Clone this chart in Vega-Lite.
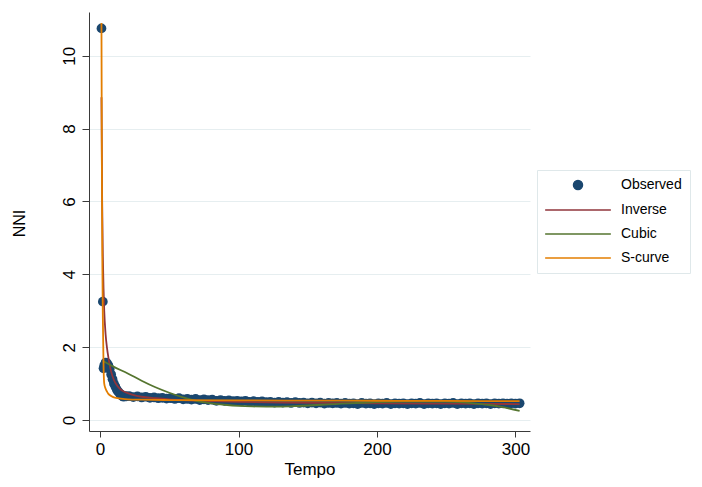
{
  "$schema": "https://vega.github.io/schema/vega-lite/v6.json",
  "width": 441,
  "height": 419,
  "autosize": "none",
  "padding": {"left": 89, "top": 12, "right": 172, "bottom": 56},
  "background": "white",
  "config": {
    "view": {"stroke": null},
    "font": "Liberation Sans",
    "axis": {
      "domainColor": "#3a3a3a",
      "tickColor": "#3a3a3a",
      "labelColor": "#000000",
      "titleColor": "#000000",
      "labelFont": "Liberation Sans",
      "titleFont": "Liberation Sans",
      "titleFontWeight": "normal",
      "labelFontSize": 17,
      "titleFontSize": 17
    }
  },
  "data": {
    "values": [
      {"series": "Observed", "Tempo": 1, "NNI": 10.75},
      {"series": "Observed", "Tempo": 2, "NNI": 3.25},
      {"series": "Observed", "Tempo": 2.5, "NNI": 1.42},
      {"series": "Observed", "Tempo": 3, "NNI": 1.5},
      {"series": "Observed", "Tempo": 4, "NNI": 1.58},
      {"series": "Observed", "Tempo": 5, "NNI": 1.56},
      {"series": "Observed", "Tempo": 6, "NNI": 1.5},
      {"series": "Observed", "Tempo": 7, "NNI": 1.4},
      {"series": "Observed", "Tempo": 8, "NNI": 1.25},
      {"series": "Observed", "Tempo": 9, "NNI": 1.12},
      {"series": "Observed", "Tempo": 10, "NNI": 1.0},
      {"series": "Observed", "Tempo": 11, "NNI": 0.92},
      {"series": "Observed", "Tempo": 12, "NNI": 0.84},
      {"series": "Observed", "Tempo": 13, "NNI": 0.78},
      {"series": "Observed", "Tempo": 14, "NNI": 0.74},
      {"series": "Observed", "Tempo": 15, "NNI": 0.7},
      {"series": "Observed", "Tempo": 16, "NNI": 0.66},
      {"series": "Observed", "Tempo": 17, "NNI": 0.64},
      {"series": "Observed", "Tempo": 18, "NNI": 0.66},
      {"series": "Observed", "Tempo": 19, "NNI": 0.65},
      {"series": "Observed", "Tempo": 21, "NNI": 0.66},
      {"series": "Observed", "Tempo": 24, "NNI": 0.63},
      {"series": "Observed", "Tempo": 27, "NNI": 0.65},
      {"series": "Observed", "Tempo": 30, "NNI": 0.62},
      {"series": "Observed", "Tempo": 33, "NNI": 0.64},
      {"series": "Observed", "Tempo": 36, "NNI": 0.61},
      {"series": "Observed", "Tempo": 39, "NNI": 0.62},
      {"series": "Observed", "Tempo": 42, "NNI": 0.6},
      {"series": "Observed", "Tempo": 45, "NNI": 0.61},
      {"series": "Observed", "Tempo": 48, "NNI": 0.59},
      {"series": "Observed", "Tempo": 51, "NNI": 0.6},
      {"series": "Observed", "Tempo": 54, "NNI": 0.58},
      {"series": "Observed", "Tempo": 57, "NNI": 0.6},
      {"series": "Observed", "Tempo": 60, "NNI": 0.57},
      {"series": "Observed", "Tempo": 63, "NNI": 0.58},
      {"series": "Observed", "Tempo": 66, "NNI": 0.56},
      {"series": "Observed", "Tempo": 69, "NNI": 0.58},
      {"series": "Observed", "Tempo": 72, "NNI": 0.55},
      {"series": "Observed", "Tempo": 75, "NNI": 0.57},
      {"series": "Observed", "Tempo": 78, "NNI": 0.55},
      {"series": "Observed", "Tempo": 81, "NNI": 0.56},
      {"series": "Observed", "Tempo": 84, "NNI": 0.53},
      {"series": "Observed", "Tempo": 87, "NNI": 0.55},
      {"series": "Observed", "Tempo": 90, "NNI": 0.53},
      {"series": "Observed", "Tempo": 93, "NNI": 0.54},
      {"series": "Observed", "Tempo": 96, "NNI": 0.52},
      {"series": "Observed", "Tempo": 99, "NNI": 0.53},
      {"series": "Observed", "Tempo": 102, "NNI": 0.51},
      {"series": "Observed", "Tempo": 105, "NNI": 0.53},
      {"series": "Observed", "Tempo": 108, "NNI": 0.5},
      {"series": "Observed", "Tempo": 111, "NNI": 0.52},
      {"series": "Observed", "Tempo": 114, "NNI": 0.5},
      {"series": "Observed", "Tempo": 117, "NNI": 0.51},
      {"series": "Observed", "Tempo": 120, "NNI": 0.49},
      {"series": "Observed", "Tempo": 123, "NNI": 0.5},
      {"series": "Observed", "Tempo": 126, "NNI": 0.48},
      {"series": "Observed", "Tempo": 129, "NNI": 0.5},
      {"series": "Observed", "Tempo": 132, "NNI": 0.48},
      {"series": "Observed", "Tempo": 135, "NNI": 0.49},
      {"series": "Observed", "Tempo": 138, "NNI": 0.47},
      {"series": "Observed", "Tempo": 141, "NNI": 0.49},
      {"series": "Observed", "Tempo": 144, "NNI": 0.47},
      {"series": "Observed", "Tempo": 147, "NNI": 0.48},
      {"series": "Observed", "Tempo": 150, "NNI": 0.46},
      {"series": "Observed", "Tempo": 153, "NNI": 0.48},
      {"series": "Observed", "Tempo": 156, "NNI": 0.46},
      {"series": "Observed", "Tempo": 159, "NNI": 0.48},
      {"series": "Observed", "Tempo": 162, "NNI": 0.45},
      {"series": "Observed", "Tempo": 165, "NNI": 0.47},
      {"series": "Observed", "Tempo": 168, "NNI": 0.46},
      {"series": "Observed", "Tempo": 171, "NNI": 0.47},
      {"series": "Observed", "Tempo": 174, "NNI": 0.45},
      {"series": "Observed", "Tempo": 177, "NNI": 0.47},
      {"series": "Observed", "Tempo": 180, "NNI": 0.45},
      {"series": "Observed", "Tempo": 183, "NNI": 0.46},
      {"series": "Observed", "Tempo": 186, "NNI": 0.44},
      {"series": "Observed", "Tempo": 189, "NNI": 0.47},
      {"series": "Observed", "Tempo": 192, "NNI": 0.45},
      {"series": "Observed", "Tempo": 195, "NNI": 0.46},
      {"series": "Observed", "Tempo": 198, "NNI": 0.44},
      {"series": "Observed", "Tempo": 201, "NNI": 0.46},
      {"series": "Observed", "Tempo": 204, "NNI": 0.45},
      {"series": "Observed", "Tempo": 207, "NNI": 0.47},
      {"series": "Observed", "Tempo": 210, "NNI": 0.44},
      {"series": "Observed", "Tempo": 213, "NNI": 0.46},
      {"series": "Observed", "Tempo": 216, "NNI": 0.45},
      {"series": "Observed", "Tempo": 219, "NNI": 0.46},
      {"series": "Observed", "Tempo": 222, "NNI": 0.44},
      {"series": "Observed", "Tempo": 225, "NNI": 0.46},
      {"series": "Observed", "Tempo": 228, "NNI": 0.45},
      {"series": "Observed", "Tempo": 231, "NNI": 0.47},
      {"series": "Observed", "Tempo": 234, "NNI": 0.44},
      {"series": "Observed", "Tempo": 237, "NNI": 0.46},
      {"series": "Observed", "Tempo": 240, "NNI": 0.45},
      {"series": "Observed", "Tempo": 243, "NNI": 0.46},
      {"series": "Observed", "Tempo": 246, "NNI": 0.44},
      {"series": "Observed", "Tempo": 249, "NNI": 0.46},
      {"series": "Observed", "Tempo": 252, "NNI": 0.45},
      {"series": "Observed", "Tempo": 255, "NNI": 0.47},
      {"series": "Observed", "Tempo": 258, "NNI": 0.44},
      {"series": "Observed", "Tempo": 261, "NNI": 0.46},
      {"series": "Observed", "Tempo": 264, "NNI": 0.45},
      {"series": "Observed", "Tempo": 267, "NNI": 0.46},
      {"series": "Observed", "Tempo": 270, "NNI": 0.44},
      {"series": "Observed", "Tempo": 273, "NNI": 0.46},
      {"series": "Observed", "Tempo": 276, "NNI": 0.45},
      {"series": "Observed", "Tempo": 279, "NNI": 0.46},
      {"series": "Observed", "Tempo": 282, "NNI": 0.44},
      {"series": "Observed", "Tempo": 285, "NNI": 0.46},
      {"series": "Observed", "Tempo": 288, "NNI": 0.45},
      {"series": "Observed", "Tempo": 291, "NNI": 0.46},
      {"series": "Observed", "Tempo": 294, "NNI": 0.45},
      {"series": "Observed", "Tempo": 297, "NNI": 0.46},
      {"series": "Observed", "Tempo": 300, "NNI": 0.45},
      {"series": "Observed", "Tempo": 303, "NNI": 0.46},

      {"series": "Inverse", "Tempo": 1, "NNI": 8.86},
      {"series": "Inverse", "Tempo": 1.5, "NNI": 6.0},
      {"series": "Inverse", "Tempo": 2, "NNI": 4.5},
      {"series": "Inverse", "Tempo": 2.5, "NNI": 3.6},
      {"series": "Inverse", "Tempo": 3, "NNI": 3.0},
      {"series": "Inverse", "Tempo": 4, "NNI": 2.35},
      {"series": "Inverse", "Tempo": 5, "NNI": 1.98},
      {"series": "Inverse", "Tempo": 6, "NNI": 1.72},
      {"series": "Inverse", "Tempo": 7, "NNI": 1.5},
      {"series": "Inverse", "Tempo": 8, "NNI": 1.33},
      {"series": "Inverse", "Tempo": 10, "NNI": 1.1},
      {"series": "Inverse", "Tempo": 12, "NNI": 0.96},
      {"series": "Inverse", "Tempo": 14, "NNI": 0.87},
      {"series": "Inverse", "Tempo": 16, "NNI": 0.81},
      {"series": "Inverse", "Tempo": 18, "NNI": 0.77},
      {"series": "Inverse", "Tempo": 20, "NNI": 0.74},
      {"series": "Inverse", "Tempo": 25, "NNI": 0.68},
      {"series": "Inverse", "Tempo": 30, "NNI": 0.64},
      {"series": "Inverse", "Tempo": 40, "NNI": 0.6},
      {"series": "Inverse", "Tempo": 50, "NNI": 0.57},
      {"series": "Inverse", "Tempo": 60, "NNI": 0.55},
      {"series": "Inverse", "Tempo": 80, "NNI": 0.52},
      {"series": "Inverse", "Tempo": 100, "NNI": 0.5},
      {"series": "Inverse", "Tempo": 130, "NNI": 0.48},
      {"series": "Inverse", "Tempo": 160, "NNI": 0.47},
      {"series": "Inverse", "Tempo": 200, "NNI": 0.46},
      {"series": "Inverse", "Tempo": 250, "NNI": 0.45},
      {"series": "Inverse", "Tempo": 303, "NNI": 0.44},

      {"series": "Cubic", "Tempo": 2, "NNI": 1.62},
      {"series": "Cubic", "Tempo": 10, "NNI": 1.46},
      {"series": "Cubic", "Tempo": 20, "NNI": 1.28},
      {"series": "Cubic", "Tempo": 30, "NNI": 1.08},
      {"series": "Cubic", "Tempo": 40, "NNI": 0.9},
      {"series": "Cubic", "Tempo": 50, "NNI": 0.75},
      {"series": "Cubic", "Tempo": 60, "NNI": 0.62},
      {"series": "Cubic", "Tempo": 70, "NNI": 0.52},
      {"series": "Cubic", "Tempo": 80, "NNI": 0.46},
      {"series": "Cubic", "Tempo": 90, "NNI": 0.42},
      {"series": "Cubic", "Tempo": 100, "NNI": 0.39},
      {"series": "Cubic", "Tempo": 110, "NNI": 0.375},
      {"series": "Cubic", "Tempo": 120, "NNI": 0.37},
      {"series": "Cubic", "Tempo": 130, "NNI": 0.37},
      {"series": "Cubic", "Tempo": 140, "NNI": 0.38},
      {"series": "Cubic", "Tempo": 150, "NNI": 0.4},
      {"series": "Cubic", "Tempo": 160, "NNI": 0.42},
      {"series": "Cubic", "Tempo": 170, "NNI": 0.44},
      {"series": "Cubic", "Tempo": 180, "NNI": 0.46},
      {"series": "Cubic", "Tempo": 190, "NNI": 0.475},
      {"series": "Cubic", "Tempo": 200, "NNI": 0.49},
      {"series": "Cubic", "Tempo": 210, "NNI": 0.5},
      {"series": "Cubic", "Tempo": 220, "NNI": 0.505},
      {"series": "Cubic", "Tempo": 230, "NNI": 0.51},
      {"series": "Cubic", "Tempo": 240, "NNI": 0.51},
      {"series": "Cubic", "Tempo": 250, "NNI": 0.505},
      {"series": "Cubic", "Tempo": 260, "NNI": 0.49},
      {"series": "Cubic", "Tempo": 270, "NNI": 0.46},
      {"series": "Cubic", "Tempo": 280, "NNI": 0.42},
      {"series": "Cubic", "Tempo": 290, "NNI": 0.36},
      {"series": "Cubic", "Tempo": 303, "NNI": 0.25},

      {"series": "S-curve", "Tempo": 1, "NNI": 10.9},
      {"series": "S-curve", "Tempo": 1.3, "NNI": 7.0},
      {"series": "S-curve", "Tempo": 1.6, "NNI": 4.5},
      {"series": "S-curve", "Tempo": 2, "NNI": 2.8},
      {"series": "S-curve", "Tempo": 2.5, "NNI": 1.5},
      {"series": "S-curve", "Tempo": 3, "NNI": 1.0},
      {"series": "S-curve", "Tempo": 4, "NNI": 0.86},
      {"series": "S-curve", "Tempo": 5, "NNI": 0.78},
      {"series": "S-curve", "Tempo": 6, "NNI": 0.72},
      {"series": "S-curve", "Tempo": 8, "NNI": 0.66},
      {"series": "S-curve", "Tempo": 10, "NNI": 0.62},
      {"series": "S-curve", "Tempo": 15, "NNI": 0.59},
      {"series": "S-curve", "Tempo": 20, "NNI": 0.57},
      {"series": "S-curve", "Tempo": 30, "NNI": 0.56},
      {"series": "S-curve", "Tempo": 50, "NNI": 0.55},
      {"series": "S-curve", "Tempo": 100, "NNI": 0.54},
      {"series": "S-curve", "Tempo": 150, "NNI": 0.535},
      {"series": "S-curve", "Tempo": 200, "NNI": 0.53},
      {"series": "S-curve", "Tempo": 250, "NNI": 0.525},
      {"series": "S-curve", "Tempo": 303, "NNI": 0.52}
    ]
  },
  "encoding": {
    "x": {
      "field": "Tempo",
      "type": "quantitative",
      "scale": {"domain": [-8, 310.5], "nice": false, "zero": false},
      "axis": {
        "values": [0, 100, 200, 300],
        "grid": false,
        "tickSize": 6,
        "labelPadding": 4,
        "title": "Tempo",
        "titleY": 43,
        "titleBaseline": "alphabetic"
      }
    },
    "y": {
      "field": "NNI",
      "type": "quantitative",
      "scale": {"domain": [-0.3, 11.2], "nice": false, "zero": false},
      "axis": {
        "values": [0, 2, 4, 6, 8, 10],
        "grid": true,
        "gridColor": "#e6eef0",
        "gridWidth": 1,
        "tickSize": 7,
        "labelAngle": 270,
        "labelAlign": "center",
        "labelBaseline": "bottom",
        "labelPadding": 4,
        "title": "NNI",
        "titleFontSize": 16,
        "titleX": -70,
        "titleY": 211,
        "titleAngle": 270,
        "titleAlign": "center",
        "titleBaseline": "middle"
      }
    },
    "color": {
      "field": "series",
      "type": "nominal",
      "scale": {
        "domain": ["Observed", "Inverse", "Cubic", "S-curve"],
        "range": ["#1a476f", "#90353b", "#55752f", "#e37e00"]
      },
      "legend": {
        "title": null,
        "orient": "none",
        "legendX": 448,
        "legendY": 158,
        "padding": 8,
        "strokeColor": "#dfe8ea",
        "fillColor": "white",
        "labelFont": "Liberation Sans",
        "labelFontSize": 14,
        "labelColor": "#000000",
        "symbolSize": 81,
        "symbolOffset": 0,
        "rowPadding": 10,
        "symbolStrokeWidth": 1.5,
        "encode": {
          "symbols": {
            "update": {
              "x": {"value": 33},
              "stroke": {"scale": "color", "field": "value"},
              "strokeWidth": {"value": 1.5}
            }
          },
          "labels": {
            "update": {
              "x": {"value": 76}
            }
          }
        }
      }
    }
  },
  "layer": [
    {
      "transform": [{"filter": "datum.series === 'Observed'"}],
      "mark": {"type": "point", "filled": true, "opacity": 1, "size": 95},
      "encoding": {
        "shape": {
          "field": "series",
          "type": "nominal",
          "scale": {
            "domain": ["Observed", "Inverse", "Cubic", "S-curve"],
            "range": ["circle", "M-7.3,0H7.3", "M-7.3,0H7.3", "M-7.3,0H7.3"]
          },
          "legend": {"title": null}
        }
      }
    },
    {
      "transform": [{"filter": "datum.series !== 'Observed'"}],
      "mark": {"type": "line", "strokeWidth": 1.8, "interpolate": "monotone"},
      "encoding": {}
    }
  ]
}
